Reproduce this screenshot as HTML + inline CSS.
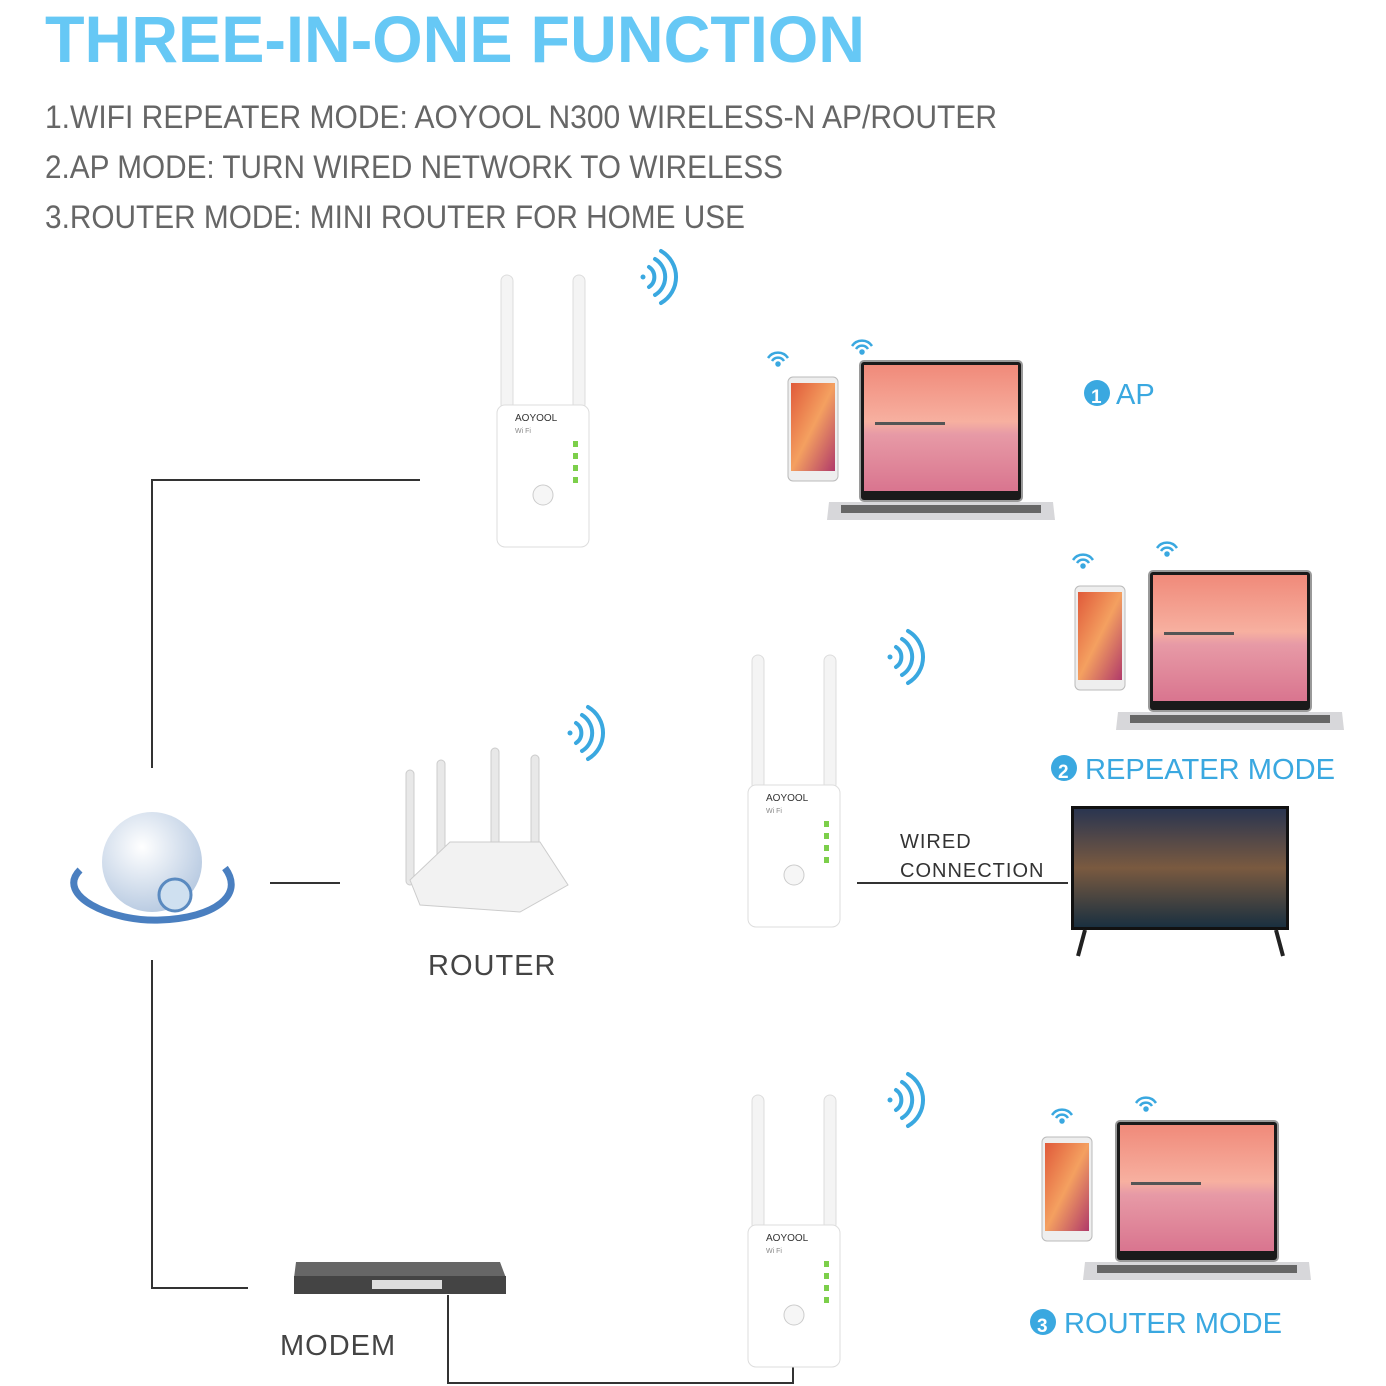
<!DOCTYPE html>
<html><head><meta charset="utf-8"><style>
html,body{margin:0;padding:0;background:#fff;}
svg{display:block;}
text{font-family:"Liberation Sans",sans-serif;}
</style></head><body>
<svg width="1386" height="1386" viewBox="0 0 1386 1386" xmlns="http://www.w3.org/2000/svg">
<defs>
<linearGradient id="scr" x1="0" y1="0" x2="0" y2="1">
<stop offset="0" stop-color="#f08a7a"/><stop offset="0.45" stop-color="#f7b0a0"/><stop offset="0.55" stop-color="#e79aa6"/><stop offset="1" stop-color="#d9758f"/></linearGradient>
<linearGradient id="ph" x1="0" y1="0" x2="1" y2="1">
<stop offset="0" stop-color="#e05a3a"/><stop offset="0.5" stop-color="#f4a060"/><stop offset="1" stop-color="#b03a6a"/></linearGradient>
<linearGradient id="tv" x1="0" y1="0" x2="0" y2="1">
<stop offset="0" stop-color="#2a3550"/><stop offset="0.5" stop-color="#7a5a40"/><stop offset="1" stop-color="#1a3040"/></linearGradient>
<radialGradient id="gl" cx="0.4" cy="0.35" r="0.7"><stop offset="0" stop-color="#fff"/><stop offset="1" stop-color="#b5c8e0"/></radialGradient>
<g id="ext">
<rect x="-42" y="-130" width="12" height="135" rx="6" fill="#f4f4f4" stroke="#ddd"/>
<rect x="30" y="-130" width="12" height="135" rx="6" fill="#f4f4f4" stroke="#ddd"/>
<rect x="-46" y="0" width="92" height="142" rx="8" fill="#fff" stroke="#ddd"/>
<text x="-28" y="16" font-size="10" fill="#333">AOYOOL</text>
<text x="-28" y="28" font-size="7" fill="#888">Wi Fi</text>
<rect x="30" y="36" width="5" height="6" fill="#7ccf4a"/><rect x="30" y="48" width="5" height="6" fill="#7ccf4a"/><rect x="30" y="60" width="5" height="6" fill="#7ccf4a"/><rect x="30" y="72" width="5" height="6" fill="#7ccf4a"/>
<circle cx="0" cy="90" r="10" fill="#f6f6f6" stroke="#ccc"/>
</g>
<g id="wifi" fill="none" stroke="#3aa8e0" stroke-width="4" stroke-linecap="round">
<circle cx="0" cy="0" r="2.5" fill="#3aa8e0" stroke="none"/>
<path d="M6,-10 A12,12 0 0 1 6,10"/><path d="M12,-18 A21,21 0 0 1 12,18"/><path d="M18,-26 A30,30 0 0 1 18,26"/>
</g>
<g id="swifi" fill="none" stroke="#3aa8e0" stroke-width="2.5">
<path d="M-10,0 A12,12 0 0 1 10,0"/><path d="M-6,3 A7,7 0 0 1 6,3"/><circle cx="0" cy="6" r="1.5" fill="#3aa8e0"/>
</g>
<g id="lap">
<rect x="0" y="0" width="164" height="142" rx="5" fill="#9a9a9a"/>
<rect x="2" y="2" width="160" height="138" rx="3" fill="#1a1a1a"/>
<rect x="5" y="5" width="154" height="126" fill="url(#scr)"/>
<rect x="16" y="62" width="70" height="3" fill="#555"/>
<path d="M-30,142 L194,142 L196,160 L-32,160 Z" fill="#d7d7da"/>
<rect x="-18" y="145" width="200" height="8" fill="#666"/>
</g>
<g id="phone">
<rect x="0" y="0" width="50" height="104" rx="5" fill="#eee" stroke="#bbb"/>
<rect x="3" y="6" width="44" height="88" fill="url(#ph)"/>
</g>
</defs>

<text x="45" y="62" font-size="66" font-weight="bold" fill="#66c8f5" textLength="820" lengthAdjust="spacingAndGlyphs">THREE-IN-ONE FUNCTION</text>
<g fill="#666" font-size="32">
<text x="45" y="128" textLength="952" lengthAdjust="spacingAndGlyphs">1.WIFI REPEATER MODE: AOYOOL N300 WIRELESS-N AP/ROUTER</text>
<text x="45" y="178" textLength="738" lengthAdjust="spacingAndGlyphs">2.AP MODE: TURN WIRED NETWORK TO WIRELESS</text>
<text x="45" y="228" textLength="700" lengthAdjust="spacingAndGlyphs">3.ROUTER MODE: MINI ROUTER FOR HOME USE</text>
</g>

<g stroke="#333" stroke-width="2" fill="none">
<path d="M152,768 L152,480 L420,480"/>
<path d="M152,960 L152,1288 L248,1288"/>
<path d="M270,883 L340,883"/>
<path d="M857,883 L1068,883"/>
<path d="M448,1295 L448,1383 L793,1383 L793,1365"/>
</g>

<circle cx="152" cy="862" r="50" fill="url(#gl)"/>
<path d="M80,870 C55,895 110,922 160,920 C215,918 245,895 225,868" fill="none" stroke="#4a7fc0" stroke-width="7"/>
<circle cx="175" cy="895" r="16" fill="#cfe0f0" stroke="#5a8ac0" stroke-width="3"/>

<use href="#ext" x="543" y="405"/>
<use href="#ext" x="794" y="785"/>
<use href="#ext" x="794" y="1225"/>
<use href="#wifi" x="643" y="277"/>
<use href="#wifi" x="890" y="657"/>
<use href="#wifi" x="890" y="1100"/>
<use href="#wifi" x="570" y="733"/>

<g fill="#e8e8e8" stroke="#ccc">
<rect x="406" y="770" width="8" height="115" rx="4"/><rect x="437" y="760" width="8" height="110" rx="4"/>
<rect x="491" y="748" width="8" height="110" rx="4"/><rect x="531" y="755" width="8" height="115" rx="4"/>
<path d="M410,880 L450,842 L540,842 L568,885 L520,912 L420,905 Z" fill="#f2f2f2"/>
</g>
<text x="428" y="975" font-size="29" fill="#444" letter-spacing="1">ROUTER</text>

<path d="M296,1262 L500,1262 L506,1278 L294,1278 Z" fill="#666"/>
<rect x="294" y="1276" width="212" height="18" fill="#444"/>
<rect x="372" y="1280" width="70" height="9" fill="#ddd"/>
<text x="280" y="1355" font-size="29" fill="#444" letter-spacing="1">MODEM</text>

<use href="#swifi" x="778" y="358"/><use href="#swifi" x="862" y="346"/>
<use href="#phone" x="788" y="377"/><use href="#lap" x="859" y="360"/>
<use href="#swifi" x="1083" y="560"/><use href="#swifi" x="1167" y="548"/>
<use href="#phone" x="1075" y="586"/><use href="#lap" x="1148" y="570"/>
<use href="#swifi" x="1062" y="1115"/><use href="#swifi" x="1146" y="1103"/>
<use href="#phone" x="1042" y="1137"/><use href="#lap" x="1115" y="1120"/>

<rect x="1071" y="806" width="218" height="124" fill="#111"/>
<rect x="1074" y="809" width="212" height="118" fill="url(#tv)"/>
<path d="M1078,956 L1085,930 M1283,956 L1276,930" stroke="#222" stroke-width="4"/>

<text x="900" y="848" font-size="20" fill="#333" letter-spacing="1">WIRED</text>
<text x="900" y="877" font-size="20" fill="#333" letter-spacing="1">CONNECTION</text>

<g fill="#3aa8e0" font-size="29">
<circle cx="1097" cy="393" r="13"/><text x="1091" y="403" font-size="19" fill="#fff" font-weight="bold">1</text>
<text x="1116" y="404">AP</text>
<circle cx="1064" cy="768" r="13"/><text x="1058" y="778" font-size="19" fill="#fff" font-weight="bold">2</text>
<text x="1085" y="779" textLength="250" lengthAdjust="spacingAndGlyphs">REPEATER MODE</text>
<circle cx="1043" cy="1322" r="13"/><text x="1037" y="1332" font-size="19" fill="#fff" font-weight="bold">3</text>
<text x="1064" y="1333" textLength="218" lengthAdjust="spacingAndGlyphs">ROUTER MODE</text>
</g>
</svg>
</body></html>
